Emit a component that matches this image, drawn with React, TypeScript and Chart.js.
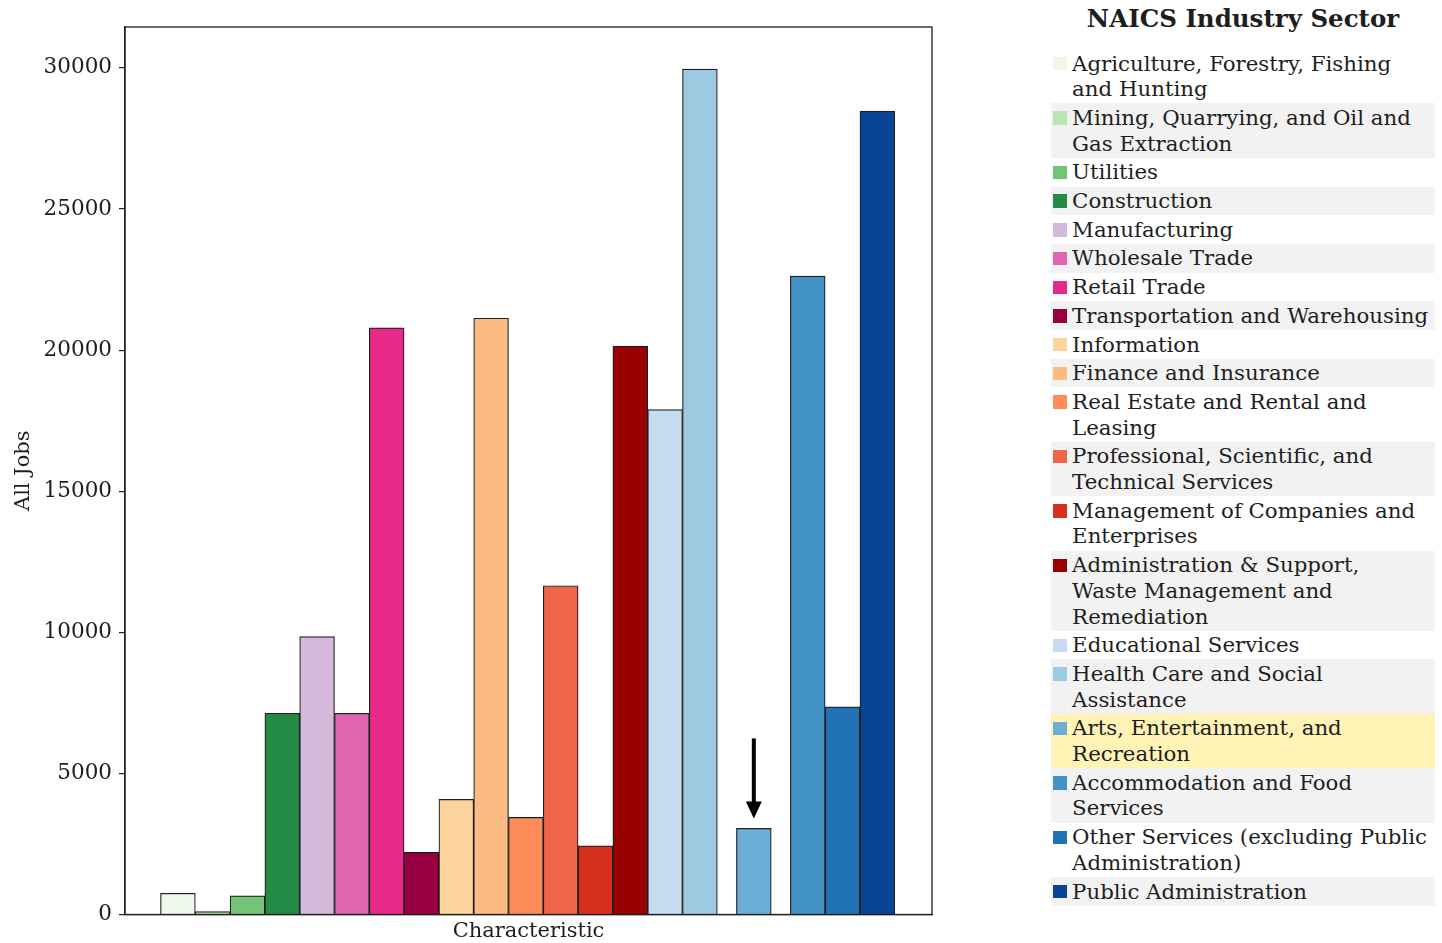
import React, { useEffect, useRef } from "react";
import { Chart, registerables } from "chart.js";

Chart.register(...registerables);

// ---- data ----
const SECTORS: string[] = [
  "Agriculture, Forestry, Fishing\nand Hunting",
  "Mining, Quarrying, and Oil and\nGas Extraction",
  "Utilities",
  "Construction",
  "Manufacturing",
  "Wholesale Trade",
  "Retail Trade",
  "Transportation and Warehousing",
  "Information",
  "Finance and Insurance",
  "Real Estate and Rental and\nLeasing",
  "Professional, Scientific, and\nTechnical Services",
  "Management of Companies and\nEnterprises",
  "Administration & Support,\nWaste Management and\nRemediation",
  "Educational Services",
  "Health Care and Social\nAssistance",
  "Arts, Entertainment, and\nRecreation",
  "Accommodation and Food\nServices",
  "Other Services (excluding Public\nAdministration)",
  "Public Administration",
];

const ALL_JOBS: number[] = [
  750, 100, 660, 7130, 9850, 7130, 20790, 2200, 4080, 21130,
  3440, 11650, 2430, 20140, 17890, 29960, 3050, 22620, 7360, 28470,
];

const COLORS: string[] = [
  "#edf8e9", "#bae4b3", "#74c476", "#238b45",
  "#d4b9da", "#df65b0", "#e7298a", "#980043",
  "#fdd49e", "#fdbb84", "#fc8d59", "#ef6548", "#d7301f", "#990000",
  "#c6dbef", "#9ecae1", "#6baed6", "#4292c6", "#2171b5", "#084594",
];

const Y_TICKS: number[] = [0, 5000, 10000, 15000, 20000, 25000, 30000];
const Y_MAX = 31450;

const HIGHLIGHT = "Arts, Entertainment, and\nRecreation";
const ARROW_FROM = 6240; // value where the arrow starts
const ARROW_TO = 3400; // value where the arrow tip points

const LEGEND_TITLE = "NAICS Industry Sector";
const X_TITLE = "Characteristic";
const Y_TITLE = "All Jobs";

// ---- layout ----
const FONT = "'DejaVu Serif', serif";
const INK = "#1e1e1e";
const GAP = 0.55; // extra space (in bar widths) on each side of the highlighted bar
const HI_INDEX = SECTORS.indexOf(HIGHLIGHT);
const slot = (i: number) =>
  i + (i > HI_INDEX ? 2 * GAP : i === HI_INDEX ? GAP : 0);
const X_MIN = -1.52;
const X_MAX = slot(SECTORS.length - 1) + 0.5 + 1.07;

const framePlugin = {
  id: "frameAndArrow",
  afterDraw(chart: any) {
    const { ctx, chartArea } = chart;
    ctx.save();
    ctx.strokeStyle = INK;
    ctx.lineWidth = 1.3;
    ctx.strokeRect(
      chartArea.left,
      chartArea.top,
      chartArea.right - chartArea.left,
      chartArea.bottom - chartArea.top
    );
    const meta = chart.getDatasetMeta(0);
    const el = meta.data[HI_INDEX];
    if (el) {
      const ys = chart.scales.y;
      const x = el.x;
      const y0 = ys.getPixelForValue(ARROW_FROM);
      const y1 = ys.getPixelForValue(ARROW_TO);
      const headL = 17;
      const headW = 16;
      ctx.fillStyle = "#000";
      ctx.strokeStyle = "#000";
      ctx.lineWidth = 4;
      ctx.beginPath();
      ctx.moveTo(x, y0);
      ctx.lineTo(x, y1 - headL + 1);
      ctx.stroke();
      ctx.beginPath();
      ctx.moveTo(x, y1);
      ctx.lineTo(x - headW / 2, y1 - headL);
      ctx.lineTo(x + headW / 2, y1 - headL);
      ctx.closePath();
      ctx.fill();
    }
    ctx.restore();
  },
};

function BarChart() {
  const ref = useRef<HTMLCanvasElement | null>(null);
  useEffect(() => {
    if (!ref.current) return;
    const chart = new Chart(ref.current, {
      type: "bar",
      data: {
        datasets: [
          {
            label: Y_TITLE,
            data: ALL_JOBS.map((v, i) => ({ x: slot(i), y: v })) as any,
            backgroundColor: COLORS,
            borderColor: INK,
            borderWidth: 1.2,
            categoryPercentage: 1,
            barPercentage: 1,
          },
        ],
      },
      options: {
        animation: false,
        responsive: false,
        events: [],
        layout: { padding: { top: 27, right: 13, left: 0, bottom: 0 } },
        plugins: {
          legend: { display: false },
          tooltip: { enabled: false },
        },
        scales: {
          x: {
            type: "linear",
            bounds: "data",
            offset: false,
            min: X_MIN,
            max: X_MAX,
            ticks: { display: false, stepSize: 5 },
            grid: { display: false },
            border: { display: true, color: INK, width: 1.3 },
            title: {
              display: true,
              text: X_TITLE,
              color: INK,
              font: { family: FONT, size: 21, lineHeight: 1.1 },
              padding: { top: 0, bottom: 0 },
            },
            afterFit: (s: any) => {
              s.height = 28.5;
            },
          },
          y: {
            type: "linear",
            bounds: "data",
            min: 0,
            max: Y_MAX,
            afterBuildTicks: (s: any) => {
              s.ticks = Y_TICKS.map((v) => ({ value: v }));
            },
            ticks: {
              callback: (v: any) => String(v),
              color: INK,
              font: { family: FONT, size: 21.5 },
              padding: 7,
            },
            grid: {
              drawOnChartArea: false,
              drawTicks: true,
              tickLength: 6,
              color: INK,
              lineWidth: 1.2,
            },
            border: { display: true, color: INK, width: 1.3 },
            title: {
              display: true,
              text: Y_TITLE,
              color: INK,
              font: { family: FONT, size: 21 },
              padding: { top: 11, bottom: 0 },
            },
            afterFit: (s: any) => {
              s.width = 125;
            },
          },
        },
      },
      plugins: [framePlugin],
    });
    return () => chart.destroy();
  }, []);
  return (
    <canvas
      ref={ref}
      width={945}
      height={943}
      style={{ position: "absolute", left: 0, top: 0, width: 945, height: 943 }}
    />
  );
}

function Legend() {
  return (
    <div
      style={{
        position: "absolute",
        left: 1051,
        top: 0,
        width: 384,
        fontFamily: FONT,
        color: INK,
      }}
    >
      <div
        style={{
          position: "absolute",
          left: -20,
          width: 424,
          top: 4,
          height: 30,
          lineHeight: "30px",
          textAlign: "center",
          fontWeight: "bold",
          fontSize: 24.5,
          whiteSpace: "nowrap",
        }}
      >
        {LEGEND_TITLE}
      </div>
      <div style={{ position: "absolute", top: 49, left: 0, width: 384 }}>
        {SECTORS.map((s, i) => (
          <div
            key={s}
            style={{
              display: "flex",
              alignItems: "flex-start",
              padding: "1.5px 0",
              background:
                s === HIGHLIGHT ? "#fff4b6" : i % 2 === 1 ? "#f2f2f2" : "transparent",
            }}
          >
            <div
              style={{
                width: 13.5,
                height: 13.5,
                marginLeft: 2,
                marginTop: 6.4,
                marginRight: 5.6,
                background: COLORS[i],
                flex: "0 0 auto",
              }}
            />
            <div
              style={{
                whiteSpace: "pre",
                fontSize: 21.3,
                lineHeight: "25.7px",
              }}
            >
              {s}
            </div>
          </div>
        ))}
      </div>
    </div>
  );
}

export default function App() {
  return (
    <div
      style={{
        position: "fixed",
        left: 0,
        top: 0,
        width: 1442,
        height: 943,
        background: "#fff",
        overflow: "hidden",
      }}
    >
      <BarChart />
      <Legend />
    </div>
  );
}
